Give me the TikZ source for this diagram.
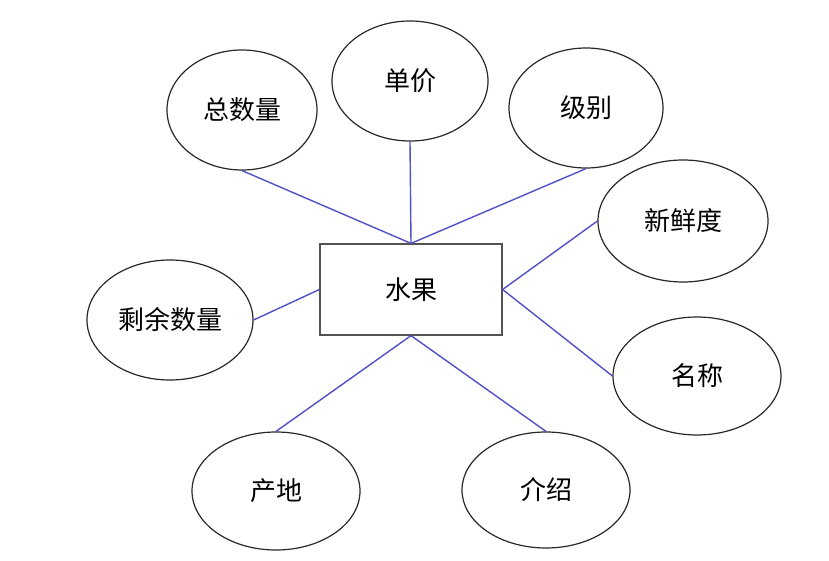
\documentclass[tikz,border=0pt]{standalone}
\usepackage{fontspec}
\newfontfamily\cjk{Noto Sans CJK SC}
\usetikzlibrary{shapes.geometric}
\definecolor{linkblue}{RGB}{80,80,200}
\definecolor{edgegray}{RGB}{40,40,40}
\begin{document}
\begin{tikzpicture}[x=1pt,y=-1pt,
  attr/.style={ellipse,draw=edgegray,line width=1.2pt,inner sep=0pt,font=\cjk\fontsize{26}{30}\selectfont},
  entity/.style={rectangle,draw=edgegray!80,line width=1.2pt,minimum width=182pt,minimum height=91pt,inner sep=0pt,font=\cjk\fontsize{26}{30}\selectfont},
  link/.style={draw=linkblue,line width=1.4pt}]
\useasboundingbox (0,0) rectangle (829,561);
\node[entity] (fruit) at (411,289.5) {水果};
\node[attr,minimum width=150pt,minimum height=120pt] (total) at (242,110) {总数量};
\node[attr,minimum width=156pt,minimum height=120pt] (price) at (410,81) {单价};
\node[attr,minimum width=154pt,minimum height=120pt] (level) at (586,108) {级别};
\node[attr,minimum width=170pt,minimum height=122pt] (fresh) at (683,221) {新鲜度};
\node[attr,minimum width=166pt,minimum height=120pt] (remain) at (170,320) {剩余数量};
\node[attr,minimum width=168pt,minimum height=118pt] (name) at (697,376) {名称};
\node[attr,minimum width=168pt,minimum height=118pt] (origin) at (276,491) {产地};
\node[attr,minimum width=168pt,minimum height=116pt] (intro) at (546,490) {介绍};
\draw[link] (total.south) -- (fruit.north);
\draw[link] (price.south) -- (fruit.north);
\draw[link] (level.south) -- (fruit.north);
\draw[link] (fresh.west) -- (fruit.east);
\draw[link] (name.west) -- (fruit.east);
\draw[link] (remain.east) -- (fruit.west);
\draw[link] (origin.north) -- (fruit.south);
\draw[link] (intro.north) -- (fruit.south);
\end{tikzpicture}
\end{document}
